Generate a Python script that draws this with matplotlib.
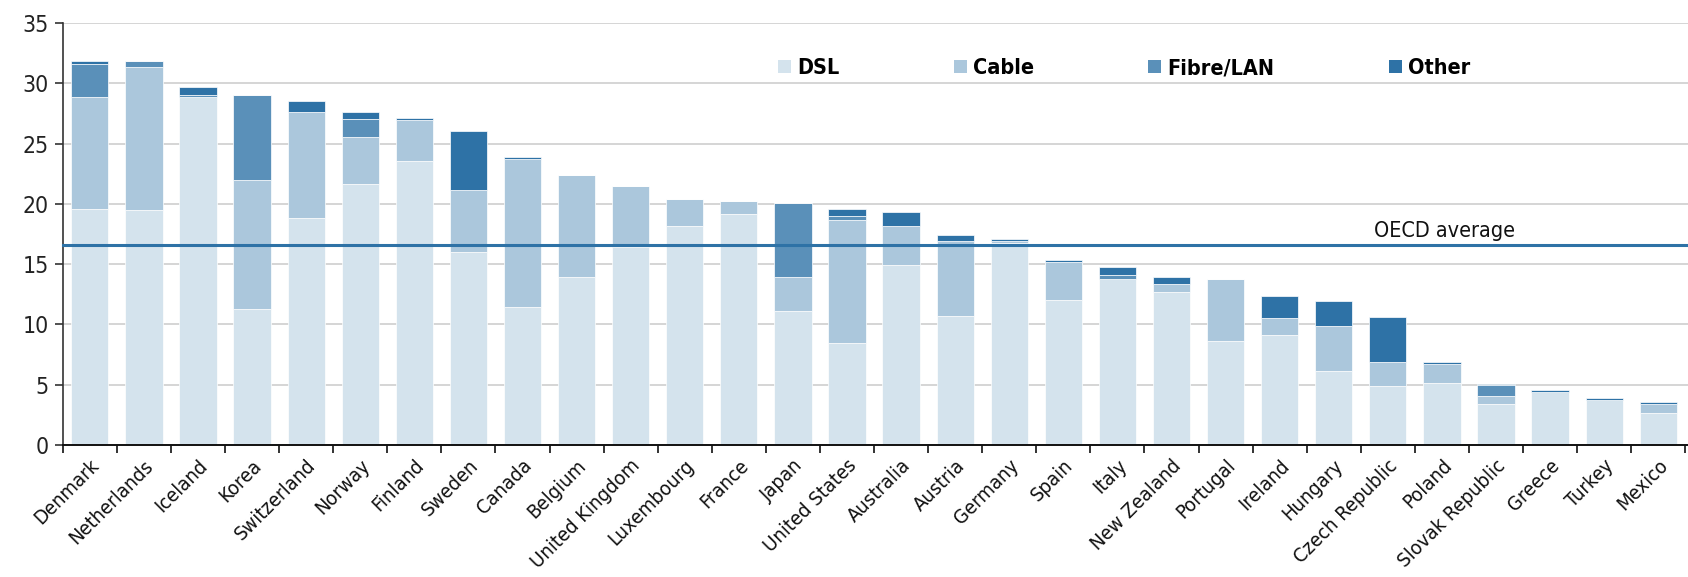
import numpy as np
import matplotlib
matplotlib.use("Agg")
import matplotlib.pyplot as plt
from matplotlib import font_manager as fm
from matplotlib.patches import Patch

# prefer a narrow sans font if one is installed
narrow = [f for f in fm.fontManager.ttflist
          if ('Narrow' in f.fname or 'Condensed' in f.fname) and 'Bold' not in f.fname
          and 'Italic' not in f.fname and 'Oblique' not in f.fname]
fam = ['Liberation Sans', 'DejaVu Sans']
stretch = 'normal'
if narrow:
    fam = [narrow[0].name] + fam
    stretch = narrow[0].stretch
plt.rcParams['font.family'] = fam
plt.rcParams['font.stretch'] = stretch

countries = ['Denmark', 'Netherlands', 'Iceland', 'Korea', 'Switzerland', 'Norway',
             'Finland', 'Sweden', 'Canada', 'Belgium', 'United Kingdom', 'Luxembourg',
             'France', 'Japan', 'United States', 'Australia', 'Austria', 'Germany',
             'Spain', 'Italy', 'New Zealand', 'Portugal', 'Ireland', 'Hungary',
             'Czech Republic', 'Poland', 'Slovak Republic', 'Greece', 'Turkey', 'Mexico']

dsl = [19.6, 19.45, 28.86, 11.26, 18.82, 21.64, 23.52, 15.99, 11.43, 13.95,
       16.4, 18.18, 19.15, 11.1, 8.47, 14.91, 10.68, 16.75, 12.06, 13.78,
       12.67, 8.6, 9.1, 6.12, 4.87, 5.15, 3.43, 4.37, 3.74, 2.66]
cable = [9.26, 11.93, 0.0, 10.68, 8.77, 3.93, 3.46, 5.18, 12.26, 8.46,
         5.07, 2.19, 1.05, 2.85, 10.18, 3.27, 6.25, 0.18, 3.1, 0.0,
         0.64, 5.18, 1.39, 3.76, 2.02, 1.6, 0.61, 0.0, 0.0, 0.77]
fibre = [2.71, 0.44, 0.14, 7.06, 0.0, 1.46, 0.0, 0.0, 0.0, 0.0,
         0.0, 0.0, 0.0, 6.11, 0.3, 0.0, 0.0, 0.0, 0.0, 0.28,
         0.0, 0.0, 0.0, 0.0, 0.0, 0.0, 0.91, 0.0, 0.0, 0.0]
other = [0.25, 0.0, 0.66, 0.0, 0.97, 0.56, 0.14, 4.84, 0.16, 0.0,
         0.0, 0.0, 0.0, 0.0, 0.61, 1.11, 0.45, 0.14, 0.17, 0.66,
         0.64, 0.0, 1.88, 2.02, 3.76, 0.11, 0.1, 0.17, 0.15, 0.16]
oecd_avg = 16.55

series = ['DSL', 'Cable', 'Fibre/LAN', 'Other']
colors = ['#d4e3ed', '#abc7dc', '#5a90b9', '#2e72a6']

fig = plt.figure(figsize=(16.88, 5.77), dpi=100)
ax = fig.add_axes([0.0372, 0.2288, 0.9628, 0.7314])

x = np.arange(len(countries))
bottom = np.zeros(len(countries))
for vals, c in zip([dsl, cable, fibre, other], colors):
    ax.bar(x, vals, 0.69, bottom=bottom, color=c, edgecolor='white', linewidth=0.5, zorder=2)
    bottom += np.array(vals)

ax.axhline(oecd_avg, color='#2e72a6', lw=2.2, zorder=3, clip_on=False)
ax.text(25.05, oecd_avg + 0.35, 'OECD average', ha='center', va='bottom', fontsize=15.5, color='#111111')

ax.set_xlim(-0.5, 29.55)
ax.set_ylim(0, 35)
ax.set_yticks(range(0, 36, 5))
ax.yaxis.grid(True, color='#d2d2d2', lw=1.3, zorder=0)
ax.set_axisbelow(True)

ax.set_xticks(x)
ax.set_xticklabels(countries, rotation=45, ha='right', rotation_mode='anchor', fontsize=14.5, color='#111111')
ax.set_xticks(np.arange(-0.5, 30, 1), minor=True)
ax.tick_params(axis='x', which='major', length=0, pad=8)
ax.tick_params(axis='x', which='minor', length=6, width=1.2, color='#111111')
ax.tick_params(axis='y', length=6, width=1.2, color='#333333', labelsize=16.5, labelcolor='#222222', pad=4)

for s in ['top', 'right']:
    ax.spines[s].set_visible(False)
ax.spines['left'].set_color('#333333')
ax.spines['left'].set_linewidth(1.2)
ax.spines['bottom'].set_color('#111111')
ax.spines['bottom'].set_linewidth(1.4)

handles = [Patch(facecolor=c, edgecolor='none', label=s) for s, c in zip(series, colors)]
fig.legend(handles=handles, loc='center left', bbox_to_anchor=(0.461, 0.882), ncol=4,
           frameon=False, handlelength=0.6, handleheight=0.6,
           handletextpad=0.3, columnspacing=5.3, borderpad=0, borderaxespad=0,
           prop={'weight': 'bold', 'size': 15.5})

fig.savefig('out.png', dpi=100)
